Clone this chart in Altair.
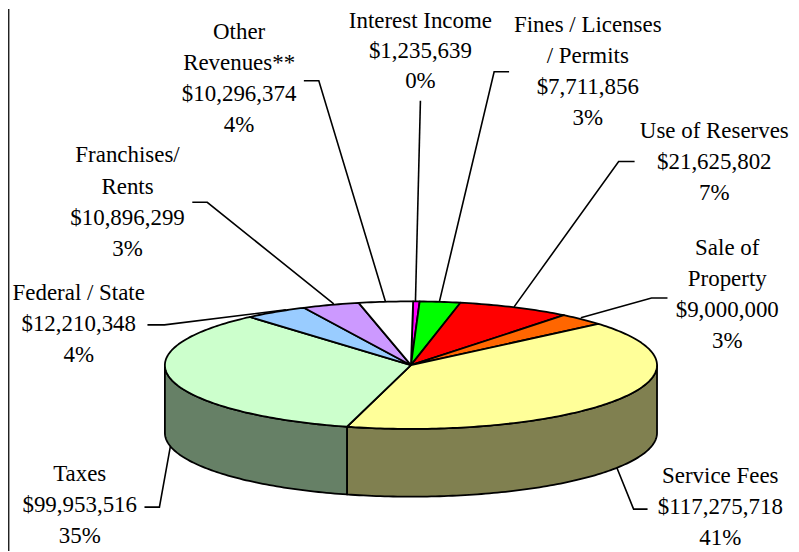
import math
import altair as alt
import pandas as pd

# ---- values ----
categories = ["Interest Income", "Fines / Licenses / Permits", "Use of Reserves", "Sale of Property",
              "Service Fees", "Taxes", "Federal / State", "Franchises/ Rents", "Other Revenues**"]
amounts = [1235639, 7711856, 21625802, 9000000, 117275718, 99953516, 12210348, 10896299, 10296374]
top_colors = ["#FF00FF", "#00FF00", "#FF0000", "#FF6600", "#FFFF99", "#CCFFCC", "#99CCFF", "#CC99FF", "#FFFFFF"]
side_colors = ["#800080", "#008000", "#800000", "#803300", "#808050", "#668066", "#4D6680", "#664D80", "#808080"]
label_lines = [
    ["Interest Income", "$1,235,639", "0%"],
    ["Fines / Licenses", "/ Permits", "$7,711,856", "3%"],
    ["Use of Reserves", "$21,625,802", "7%"],
    ["Sale of", "Property", "$9,000,000", "3%"],
    ["Service Fees", "$117,275,718", "41%"],
    ["Taxes", "$99,953,516", "35%"],
    ["Federal / State", "$12,210,348", "4%"],
    ["Franchises/", "Rents", "$10,896,299", "3%"],
    ["Other", "Revenues**", "$10,296,374", "4%"],
]

# ---- placement (page pixels) ----
OFFSET = 8
PIE_X, PIE_Y, RX, RY, DEPTH = 412.5, 365.5, 247, 64, 68
START_ANGLE = 0.5
label_center_x = [422, 590, 717, 730, 723, 80, 79, 128, 240]
label_first_y = [20, 24, 130, 248, 477, 475, 293, 155, 31]
LINE_STEP = 31.2
leaders = [
    [(422, 100), (417, 302)],
    [(511, 71), (496, 71), (441, 302)],
    [(637, 161), (621, 161), (516, 307)],
    [(670, 298), (654, 298), (583, 318)],
    [(650, 510), (636, 510), (619, 468)],
    [(145, 508), (160, 508), (171, 447)],
    [(148, 325), (165, 325), (287, 310)],
    [(193, 202), (208, 202), (335, 304)],
    [(305, 80), (320, 80), (387, 302)],
]
frame = [(8.7, 8), (8.7, 552)]


def rim(deg, drop=0):
    t = math.radians(deg)
    return [PIE_X + RX * math.sin(t), PIE_Y - RY * math.cos(t) + drop]


def arc_points(a, b, drop=0):
    n = max(2, int(abs(b - a)) + 2)
    return [rim(a + (b - a) * i / (n - 1), drop) for i in range(n)]


def feature(ring, color, name):
    return {"type": "Feature", "properties": {"color": color, "name": name},
            "geometry": {"type": "Polygon", "coordinates": [ring + [ring[0]]]}}


total = sum(amounts)
tops, sides = [], []
angle = START_ANGLE
for name, amount, top, side in zip(categories, amounts, top_colors, side_colors):
    end = angle + 360 * amount / total
    tops.append(feature([[PIE_X, PIE_Y]] + arc_points(angle, end), top, name))
    lo, hi = max(angle, 90), min(end, 270)
    if lo < hi:
        upper = arc_points(lo, hi)
        lower = arc_points(hi, lo, DEPTH)
        sides.append(feature(upper + lower, side, name))
    angle = end

proj = dict(type="identity", scale=1, translate=[-OFFSET, -OFFSET])
W, H = 786, 544
xs = alt.Scale(domain=[OFFSET, OFFSET + W], range=[0, W])
ys = alt.Scale(domain=[OFFSET, OFFSET + H], range=[0, H])
X = lambda f: alt.X(f, type="quantitative", scale=xs, axis=None)
Y = lambda f: alt.Y(f, type="quantitative", scale=ys, axis=None)


def shape_layer(features):
    return alt.Chart(alt.Data(values=features)).mark_geoshape(
        stroke="black", strokeWidth=1.8, strokeJoin="round"
    ).encode(fill=alt.Fill("properties.color:N", scale=None)).project(**proj)


rows = []
for i, path in enumerate(leaders):
    rows += [{"id": i, "k": k, "x": p[0], "y": p[1]} for k, p in enumerate(path)]
leader_df = pd.DataFrame(rows)
line_layer = alt.Chart(leader_df).mark_line(color="black", strokeWidth=1.6).encode(
    x=X("x"), y=Y("y"), detail="id:N", order="k:O")

frame_df = pd.DataFrame({"x": [p[0] for p in frame], "y": [p[1] for p in frame]})
frame_layer = alt.Chart(frame_df).mark_line(color="#222222", strokeWidth=1.5, clip=True).encode(x=X("x"), y=Y("y"))

text_rows = []
for lines, cx, fy in zip(label_lines, label_center_x, label_first_y):
    for j, s in enumerate(lines):
        text_rows.append({"x": cx, "y": fy + j * (LINE_STEP - (1 if fy == 20 else 0)), "t": s})
text_layer = alt.Chart(pd.DataFrame(text_rows)).mark_text(
    font="Liberation Serif", fontSize=23, color="black", align="center", baseline="middle"
).encode(x=X("x"), y=Y("y"), text="t:N")

chart = alt.layer(
    frame_layer, line_layer, shape_layer(sides), shape_layer(tops), text_layer
).properties(width=W, height=H, padding=0, autosize=alt.AutoSizeParams(type="none")).configure_view(stroke=None)

chart.save("out.html", embed_options={"renderer": "svg", "actions": False})
